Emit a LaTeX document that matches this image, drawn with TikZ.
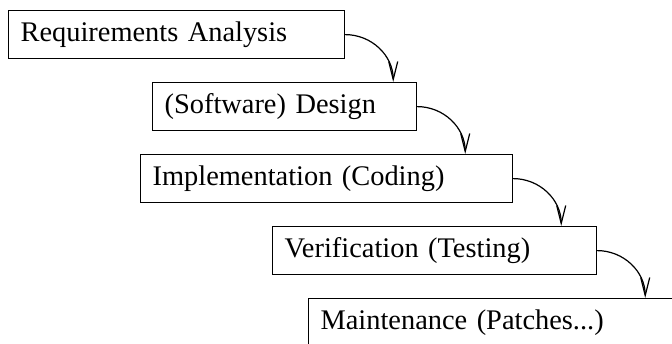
\documentclass[tikz,border=0pt]{standalone}
\usepackage{fontspec}
\setmainfont{Liberation Serif}
\usetikzlibrary{arrows.meta}
\begin{document}
\begin{tikzpicture}[x=0.5pt,y=-0.5pt,
	stage/.style={draw, line width=0.6pt, anchor=north west, align=left,
		inner xsep=6pt, inner ysep=0pt, minimum height=24pt,
		font=\fontsize{14.2}{16}\selectfont},
	flow/.style={line width=0.6pt, -{Straight Barb[length=9pt,width=4.5pt]}}]
	\useasboundingbox (0,0) rectangle (672,343);
	\clip (0,0) rectangle (672,343);
	% the stages
	\node[stage, text width=156pt] (req) at (8,10) {Requirements Analysis};
	\node[stage, text width=120pt] (des) at (152,82) {(Software) Design};
	\node[stage, text width=174pt] (imp) at (140,154) {Implementation (Coding)};
	\node[stage, text width=150pt] (ver) at (272,226) {Verification (Testing)};
	\node[stage, text width=200pt] (mnt) at (308,298) {Maintenance (Patches...)};
	% the flow from one stage to the next
	\draw[flow] (req.east) to[out=0,in=90] ([xshift=24pt]req.east |- des.north);
	\draw[flow] (des.east) to[out=0,in=90] ([xshift=24pt]des.east |- imp.north);
	\draw[flow] (imp.east) to[out=0,in=90] ([xshift=24pt]imp.east |- ver.north);
	\draw[flow] (ver.east) to[out=0,in=90] ([xshift=24pt]ver.east |- mnt.north);
\end{tikzpicture}
\end{document}
